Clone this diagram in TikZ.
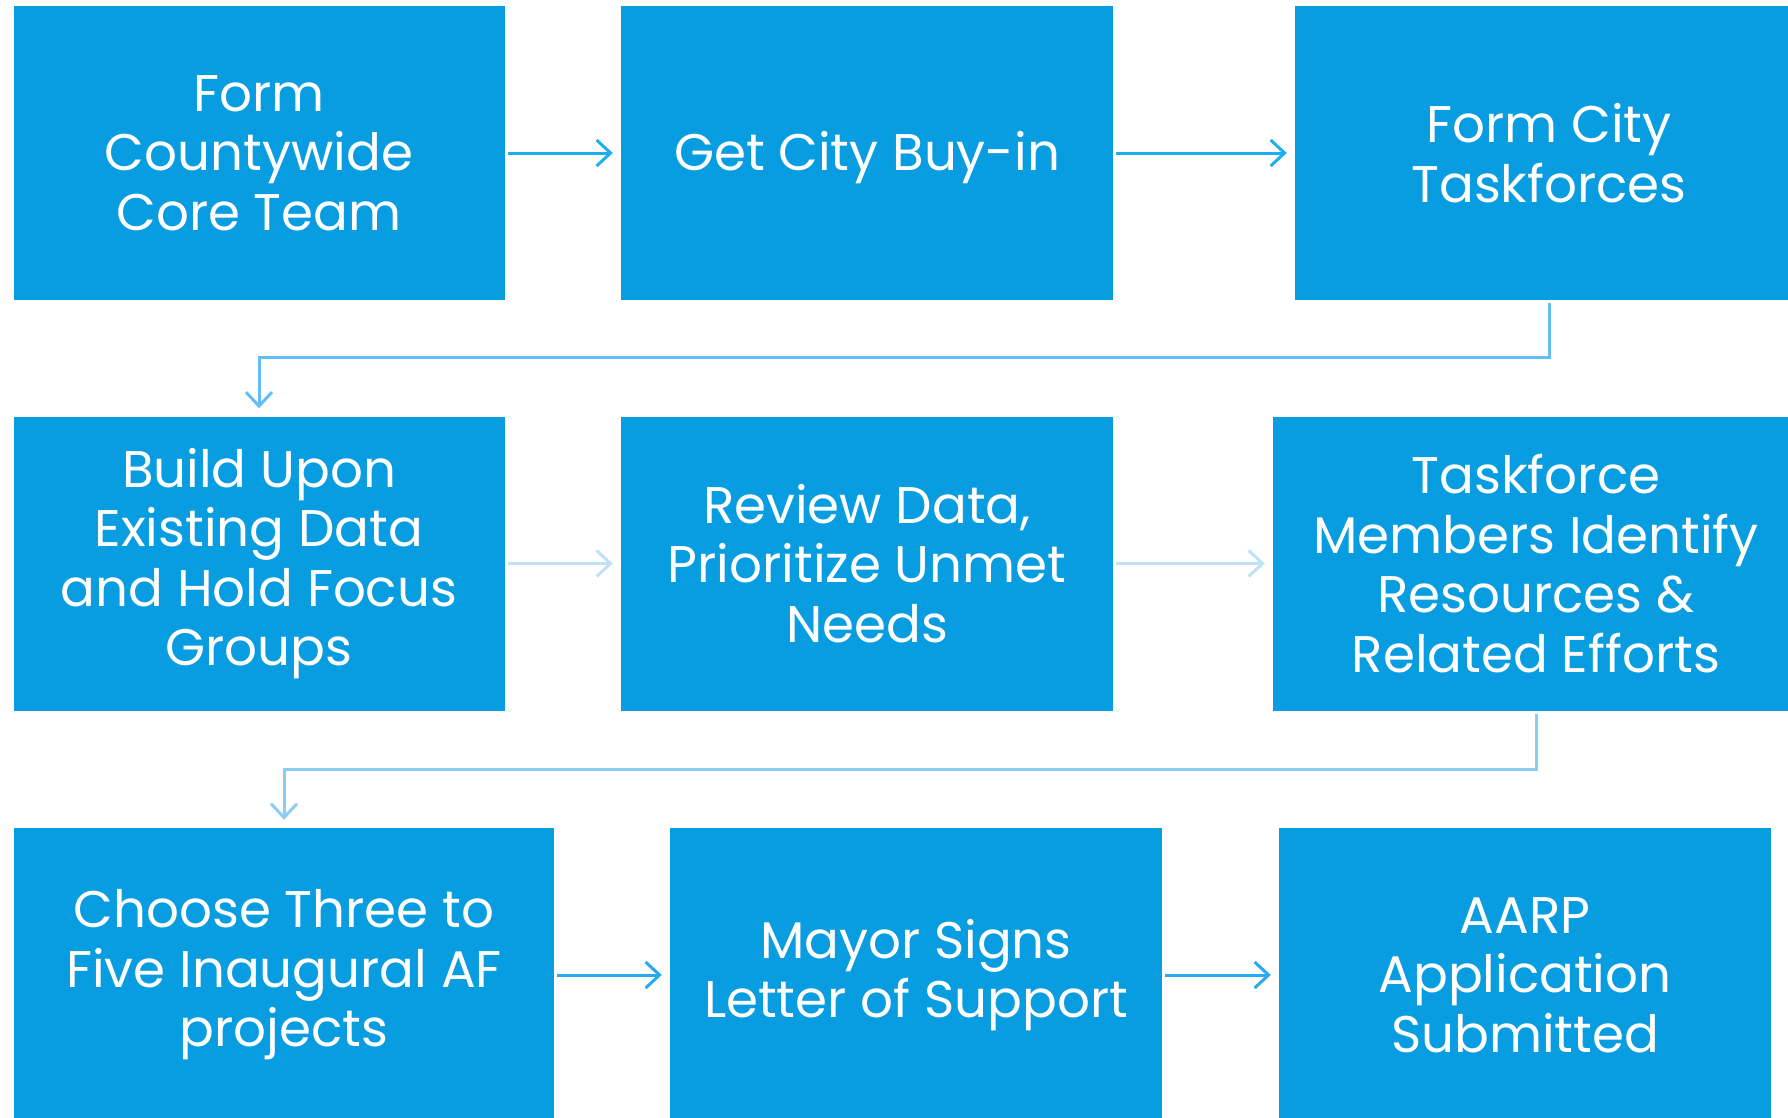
\documentclass[tikz,border=0pt]{standalone}
\usepackage{fontspec}
\setmainfont{Poppins}
\usetikzlibrary{arrows.meta}
\definecolor{boxblue}{RGB}{8,157,224}
\definecolor{arrowA}{RGB}{30,174,240}
\definecolor{connA}{RGB}{100,190,245}
\definecolor{arrowB}{RGB}{190,225,248}
\definecolor{connB}{RGB}{140,205,245}
\definecolor{arrowC}{RGB}{40,170,240}
\tikzset{
  stepbox/.style={fill=boxblue, draw=none, text=white, align=center,
    minimum height=294pt, inner sep=0pt,
    font=\fontsize{51.5}{59.5}\selectfont},
  flow/.style={line width=3pt, -{Straight Barb[length=14pt,width=26pt,line width=3pt]},
    shorten <=3pt, shorten >=8pt}
}
\begin{document}
\begin{tikzpicture}[x=1pt,y=-1pt]
\useasboundingbox (0,0) rectangle (1788,1117);
% row 1
\node[stepbox, minimum width=491pt] (b1) at (259,153) {Form\\Countywide\\Core Team};
\node[stepbox, minimum width=492pt] (b2) at (867,153) {\raisebox{-5pt}[\height][\depth]{Get City Buy-in}};
\node[stepbox, minimum width=508pt] (b3) at (1549,153) {Form City\\Taskforces};
% row 2
\node[stepbox, minimum width=491pt] (b4) at (259,563.5) {Build Upon\\Existing Data\\and Hold Focus\\Groups};
\node[stepbox, minimum width=492pt] (b5) at (867,563.5) {Review Data,\\Prioritize Unmet\\Needs};
\node[stepbox, minimum width=526pt] (b6) at (1536,563.5) {Taskforce\\Members Identify\\Resources \&\\Related Efforts};
% row 3
\node[stepbox, minimum width=540pt] (b7) at (284,975) {Choose Three to\\Five Inaugural AF\\projects};
\node[stepbox, minimum width=492pt] (b8) at (916,975) {Mayor Signs\\Letter of Support};
\node[stepbox, minimum width=492pt] (b9) at (1525,975) {AARP\\Application\\Submitted};
% connectors
\draw[flow, draw=arrowA] (b1) -- (b2);
\draw[flow, draw=arrowA] (b2) -- (b3);
\draw[flow, draw=connA] (b3.south) -- ++(0,57) -| (b4.north);
\draw[flow, draw=arrowB] (b4) -- (b5);
\draw[flow, draw=arrowB] (b5) -- (b6);
\draw[flow, draw=connB] (b6.south) -- ++(0,59) -| (b7.north);
\draw[flow, draw=arrowC] (b7) -- (b8);
\draw[flow, draw=arrowC] (b8) -- (b9);
\end{tikzpicture}
\end{document}
